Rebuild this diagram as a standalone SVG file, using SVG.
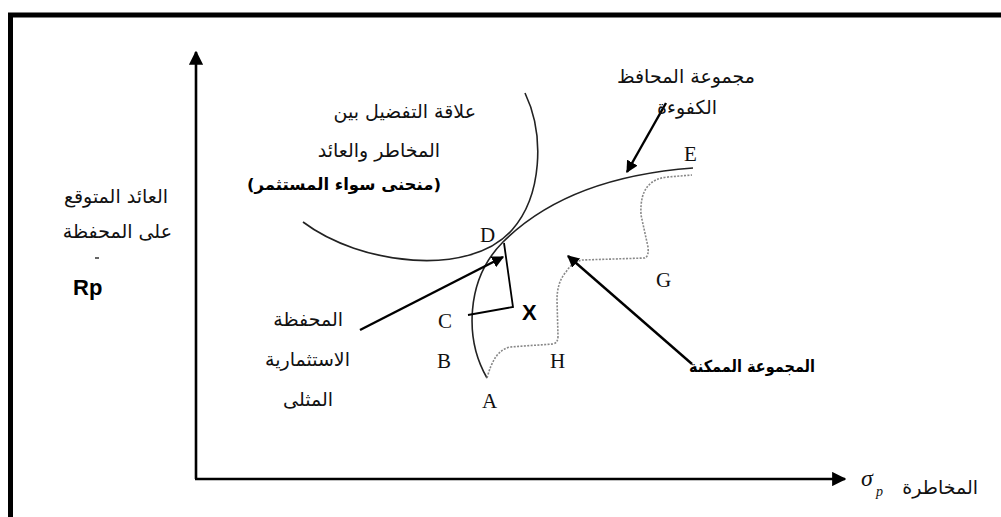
<svg xmlns="http://www.w3.org/2000/svg" width="1001" height="517" viewBox="0 0 1001 517">
  <defs>
    <marker id="arrowSolid" viewBox="0 0 10 10" refX="9" refY="5" markerWidth="5" markerHeight="5" orient="auto" markerUnits="strokeWidth">
      <path d="M0,0 L10,5 L0,10 z" fill="#000"/>
    </marker>
    <marker id="axisHead" viewBox="0 0 10 10" refX="9" refY="5" markerWidth="5.5" markerHeight="5.5" orient="auto" markerUnits="strokeWidth">
      <path d="M0,0 L10,5 L0,10 z" fill="#000"/>
    </marker>
  </defs>
  <style>
    .ar { font-family: "DejaVu Sans", "Noto Sans", sans-serif; font-size: 19px; fill: #111; }
    .arb { font-family: "DejaVu Sans", "Noto Sans", sans-serif; font-size: 16.5px; font-weight: bold; fill: #000; }
    .pt { font-family: "Liberation Serif", "DejaVu Serif", serif; font-size: 21px; fill: #111; }
    .lat { font-family: "Liberation Sans", Arial, sans-serif; font-size: 22px; font-weight: bold; fill: #000; }
    .curve { fill: none; stroke: #222; stroke-width: 1.6; }
    .feasible { fill: none; stroke: #888; stroke-width: 1.6; stroke-dasharray: 2 1.4; }
    .pointer { fill: none; stroke: #000; stroke-width: 2.4; }
    .axis { fill: none; stroke: #000; stroke-width: 2.6; }
  </style>

  <rect width="1001" height="517" fill="#fff"/>

  <!-- outer frame (top and left edges visible) -->
  <path d="M10.5,1001 L10.5,15 L1001,15" fill="none" stroke="#000" stroke-width="5"/>

  <!-- axes -->
  <g id="axes">
    <line class="axis" x1="196" y1="479" x2="196" y2="52" marker-end="url(#axisHead)"/>
    <line class="axis" x1="195" y1="479" x2="845" y2="479" marker-end="url(#axisHead)"/>
  </g>

  <!-- indifference curve -->
  <g id="indifference">
    <path class="curve" d="M303,222 C360,265 470,278 512,230 C542,196 545,135 525,93"/>
  </g>

  <!-- efficient frontier A-D-E -->
  <g id="frontier">
    <path class="curve" d="M487,378 C465,340 465,280 503,242 C540,205 600,175 693,168"/>
  </g>

  <!-- feasible set boundary -->
  <g id="feasible-set">
    <path class="feasible" d="M487,378 C492,360 498,350 510,347 L553,344 Q558,343 558,336 L557,300 Q557,282 566,272 Q572,262 582,260 L645,258 Q649,256 648,247 L641,215 Q640,195 648,186 Q655,178 668,177 L692,175"/>
  </g>

  <!-- pointers -->
  <g id="connectors">
    <line class="pointer" x1="360" y1="330" x2="503" y2="257" marker-end="url(#arrowSolid)"/>
    <line class="pointer" x1="692" y1="364" x2="568" y2="256" marker-end="url(#arrowSolid)"/>
    <line class="pointer" x1="666" y1="103" x2="627" y2="172" marker-end="url(#arrowSolid)"/>
    <polyline fill="none" stroke="#000" stroke-width="1.8" points="504,243 513,307 468,315"/>
  </g>

  <!-- point labels -->
  <g id="points">
    <text class="pt" x="480" y="242">D</text>
    <text class="pt" x="438" y="328">C</text>
    <text class="pt" x="437" y="368">B</text>
    <text class="pt" x="482" y="408">A</text>
    <text class="pt" x="550" y="368">H</text>
    <text class="pt" x="656" y="287">G</text>
    <text class="pt" x="684" y="161">E</text>
    <text class="lat" x="522" y="320">X</text>
  </g>

  <!-- axis titles -->
  <g id="y-title">
    <text class="ar" x="168" y="203" text-anchor="end">العائد المتوقع</text>
    <text class="ar" x="172" y="238" text-anchor="end">على المحفظة</text>
    <line x1="95" y1="258" x2="99" y2="258" stroke="#333" stroke-width="1.5"/>
    <text class="lat" x="73" y="295" font-size="24">Rp</text>
  </g>
  <g id="x-title">
    <text x="861" y="486" font-family="Liberation Serif, serif" font-style="italic" font-size="24" fill="#111">σ</text>
    <text x="876" y="496" font-family="Liberation Serif, serif" font-style="italic" font-size="14" fill="#111">p</text>
    <text class="ar" x="978" y="494" text-anchor="end">المخاطرة</text>
  </g>

  <!-- annotations -->
  <g id="label-indifference">
    <text class="ar" x="476" y="118" text-anchor="end">علاقة التفضيل بين</text>
    <text class="ar" x="440" y="157" text-anchor="end">المخاطر والعائد</text>
    <text class="arb" x="441" y="190" text-anchor="end">(منحنى سواء المستثمر)</text>
  </g>
  <g id="label-efficient">
    <text class="ar" x="755" y="83" text-anchor="end">مجموعة المحافظ</text>
    <text class="ar" x="717" y="114" text-anchor="end" font-size="17.5">الكفوءة</text>
  </g>
  <g id="label-optimal">
    <text class="ar" x="343" y="326" text-anchor="end">المحفظة</text>
    <text class="ar" x="350" y="366" text-anchor="end">الاستثمارية</text>
    <text class="ar" x="333" y="406" text-anchor="end">المثلى</text>
  </g>
  <g id="label-feasible">
    <text class="arb" x="815" y="372" text-anchor="end" textLength="126" lengthAdjust="spacingAndGlyphs">المجموعة الممكنة</text>
  </g>
</svg>
